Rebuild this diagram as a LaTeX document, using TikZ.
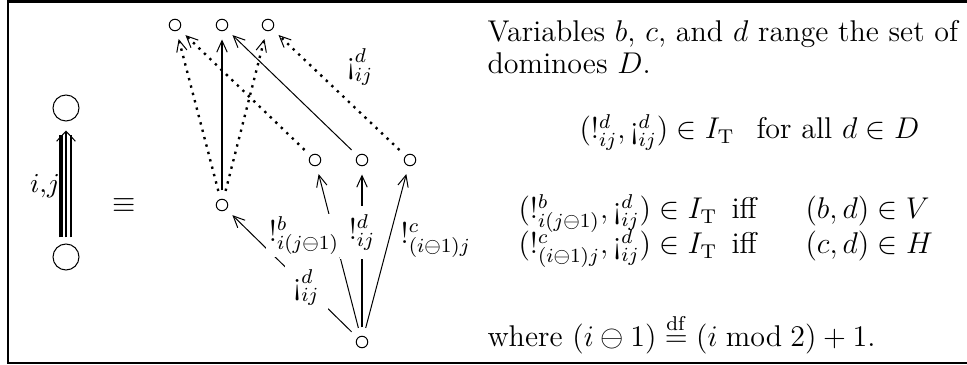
\documentclass[tikz,border=0pt]{standalone}
\usepackage{amsmath}
\usetikzlibrary{arrows.meta}
\newcommand{\invexcl}{\mathord{\mbox{\textexclamdown}}}
\begin{document}
\begin{tikzpicture}[x=0.4pt,y=-0.4pt,
  every node/.style={font=\fontsize{12}{14.5}\selectfont},
  dot/.style={circle,draw,line width=0.4pt,minimum size=4.6pt,inner sep=0pt,outer sep=3.5pt},
  bigc/.style={circle,draw,line width=0.4pt,minimum size=10.4pt,inner sep=0pt},
  arr/.style={-{Straight Barb[length=4.6pt,width=4.2pt,line width=0.4pt]}},
  thinarr/.style={arr,line width=0.4pt},
  thickarr/.style={arr,line width=0.9pt},
  dotarr/.style={arr,line width=0.95pt,dash pattern=on 0.95pt off 2.1pt},
  lbl/.style={fill=white},
  txt/.style={anchor=base west,inner sep=0pt}]
\useasboundingbox (0,0) rectangle (967,365);
% frame
\draw[line width=1pt] (975,1.5) -- (8,1.5) -- (8,363) -- (975,363);
% left part
\node[bigc] (bt) at (66,108) {};
\node[bigc] (bb) at (66,257) {};
\draw[line width=1.4pt] ([xshift=-2pt,yshift=2.4pt]bb.north) -- ([xshift=-2pt,yshift=-5.4pt]bt.south);
\draw[line width=0.6pt] ([xshift=2pt,yshift=2.4pt]bb.north) -- ([xshift=2pt,yshift=-5.4pt]bt.south);
\draw[line width=0.9pt,-{Straight Barb[length=4pt,width=7.5pt,line width=0.4pt]}] ([yshift=2.4pt]bb.north) -- ([yshift=-3.6pt]bt.south);
\node[font=\fontsize{10.5}{12}\selectfont] (ij) at (45,186) {$i{,}j$};
\node (eq) at (124,206) {$\equiv$};
% graph nodes
\node[dot] (t1) at (175,25) {};
\node[dot] (t2) at (222,25) {};
\node[dot] (t3) at (268,25) {};
\node[dot] (m) at (222,205) {};
\node[dot] (r1) at (315,160) {};
\node[dot] (r2) at (362,160) {};
\node[dot] (r3) at (410,160) {};
\node[dot] (b) at (362,342) {};
% edges
\draw[dotarr] (m) -- (t1);
\draw[thickarr] (m) -- (t2);
\draw[dotarr] (m) -- (t3);
\draw[dotarr] (r1) -- (t1);
\draw[thinarr] (r2) -- (t2);
\draw[dotarr] (r3) -- node[pos=0.5,xshift=8.4pt,yshift=10.2pt] {$\invexcl^d_{ij}$} (t3);
\draw[thinarr] (b) -- node[lbl,pos=0.38] {$\invexcl^d_{ij}$} (m);
\draw[thinarr] (b) -- node[lbl,inner sep=1pt,pos=0.6,anchor=east,xshift=3pt] {$!^b_{i(j\ominus1)}$} (r1);
\draw[thickarr] (b) -- node[lbl,pos=0.62] {$!^d_{ij}$} (r2);
\draw[thinarr] (b) -- node[pos=0.57,anchor=west,xshift=1.2pt] {$!^c_{(i\ominus1)j}$} (r3);
% text
\node[txt] (l1) at (487,42) {Variables $b$, $c$, and $d$ range the set of};
\node[txt] (l2) at (487,74) {dominoes $D$.};
\node[txt] (l3a) at (579,139) {$(!^d_{ij}, \invexcl^d_{ij}) \in I_{\mathrm{T}}$};
\node[txt] (l3b) at (756,139) {for all $d\in D$};
\node[txt] (l4a) at (518,219) {$(!^b_{i(j\ominus1)}, \invexcl^d_{ij}) \in I_{\mathrm{T}}$};
\node[txt] (l4b) at (731,219) {iff};
\node[txt] (l4c) at (805,219) {$(b,d)\in V$};
\node[txt] (l5a) at (518,254) {$(!^c_{(i\ominus1)j}, \invexcl^d_{ij}) \in I_{\mathrm{T}}$};
\node[txt] (l5b) at (731,254) {iff};
\node[txt] (l5c) at (805,254) {$(c,d)\in H$};
\node[txt] (l6) at (487,347) {where $(i\ominus 1) \stackrel{\mathrm{df}}{=} (i \bmod 2)+1$.};
\end{tikzpicture}
\end{document}
